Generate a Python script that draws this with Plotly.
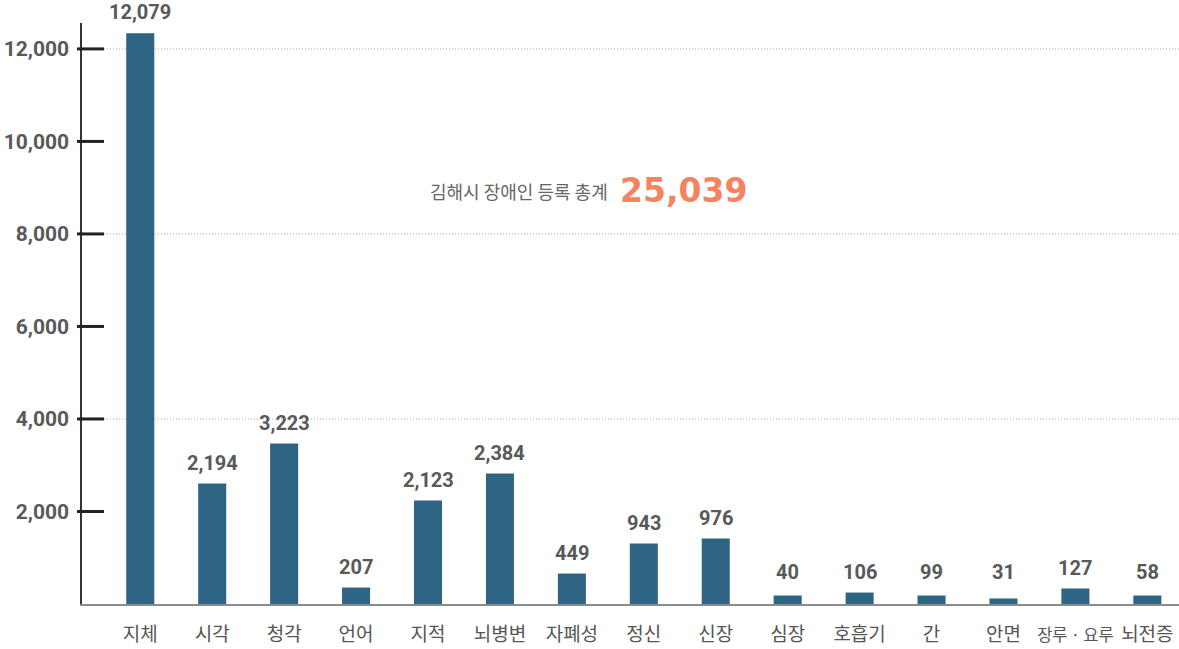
import plotly.graph_objects as go

# ---- data ----
categories = ["지체", "시각", "청각", "언어", "지적", "뇌병변", "자폐성", "정신", "신장",
              "심장", "호흡기", "간", "안면", "장루 · 요루", "뇌전증"]
label_values = [12079, 2194, 3223, 207, 2123, 2384, 449, 943, 976, 40, 106, 99, 31, 127, 58]
bar_heights = [12337, 2603, 3467, 356, 2235, 2819, 659, 1307, 1415, 184, 248, 184, 119, 335, 184]
y_ticks = [2000, 4000, 6000, 8000, 10000, 12000]
grid_values = [4000, 8000, 12000]
total_title = "김해시 장애인 등록 총계"
total_value = "25,039"

BAR = "#2f6584"
TXT = "#595959"
label_floor = 230

# long category label rendered slightly tighter so it does not collide with its neighbour
tick_labels = [
    "<span style='font-size:16.5px'>" + c.replace(" ", "\u2009") + "</span>" if len(c) > 4 else c
    for c in categories
]

fig = go.Figure()
fig.add_trace(go.Bar(
    x=categories, y=bar_heights, marker=dict(color=BAR, line=dict(width=0)),
    width=0.39, hoverinfo="skip", showlegend=False,
))

annotations = []
for c, h, v in zip(categories, bar_heights, label_values):
    annotations.append(dict(
        x=c, y=max(h, label_floor), xref="x", yref="y", text=f"{v:,}",
        showarrow=False, yanchor="bottom", yshift=7,
        font=dict(family="Roboto", size=20, color=TXT, weight=700),
    ))

annotations.append(dict(
    x=0.4817, y=8930, xref="paper", yref="y", text=total_title, showarrow=False,
    xanchor="right", yanchor="middle",
    font=dict(family="Noto Sans CJK KR", size=18, color="#666666"),
))
annotations.append(dict(
    x=0.489, y=8930, xref="paper", yref="y", text=f"<b>{total_value}</b>", showarrow=False,
    xanchor="left", yanchor="middle",
    font=dict(family="DejaVu Sans", size=33, color="#f4845f"),
))

shapes = []
for g in grid_values:
    shapes.append(dict(type="line", xref="paper", yref="y", x0=0.02, x1=1, y0=g, y1=g,
                       line=dict(color="#a8a8a8", width=1, dash="1px,2px"), layer="below"))
for t in y_ticks:
    shapes.append(dict(type="line", xref="paper", yref="y", xsizemode="pixel", xanchor=0,
                       x0=-5, x1=22, y0=t, y1=t,
                       line=dict(color="#222222", width=3), layer="above"))

fig.update_layout(
    width=1179, height=649,
    margin=dict(l=82, r=0, t=23, b=45, autoexpand=False),
    paper_bgcolor="white", plot_bgcolor="white",
    bargap=0.6,
    annotations=annotations, shapes=shapes,
    xaxis=dict(
        type="category", range=[-0.81, 14.44], automargin=False, tickangle=0,
        tickvals=categories, ticktext=tick_labels,
        showline=True, linecolor="#8c8c8c", linewidth=2,
        showgrid=False, zeroline=False, ticks="",
        tickfont=dict(family="Noto Sans CJK KR", size=19, color="#555555"),
        ticklabelstandoff=12,
    ),
    yaxis=dict(
        range=[0, 12560], tickvals=y_ticks, ticktext=[f"{t:,}" for t in y_ticks],
        automargin=False,
        showline=True, linecolor="#333333", linewidth=1.5,
        showgrid=False, zeroline=False, ticks="",
        tickfont=dict(family="Roboto", size=21, color=TXT, weight=700),
        ticklabelstandoff=7,
    ),
)

fig.write_html(
    "out.html",
    config={"displayModeBar": False},
    post_script="document.body.style.margin='0';document.body.style.overflow='hidden';",
)
